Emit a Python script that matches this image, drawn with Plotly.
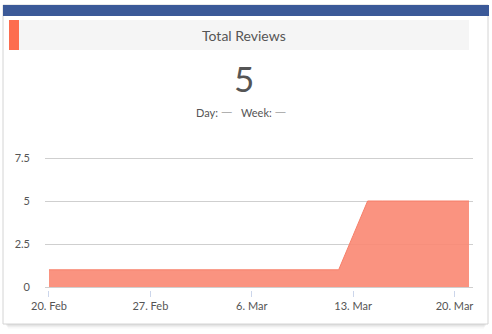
import pandas as pd
import plotly.graph_objects as go

# Cumulative review count per day
dates = pd.date_range("2023-02-20", "2023-03-21", freq="D")
reviews = [1] * 21 + [3] + [5] * 8

tick_dates = ["2023-02-20", "2023-02-27", "2023-03-06", "2023-03-13", "2023-03-20"]
tick_labels = ["20. Feb", "27. Feb", "6. Mar", "13. Mar", "20. Mar"]
y_ticks = [0, 2.5, 5, 7.5]
y_labels = ["0", "2.5", "5", "7.5"]

title = "Total Reviews"
total = "5"

W, H = 492, 334
FONT = "Lato"
TXT = "#555555"
PX_PER_UNIT = 129 / 7.5  # vertical pixels per review


def px(x):
    return x / W


def py(y):
    return 1 - y / H


fig = go.Figure()
fig.add_trace(go.Scatter(
    x=dates, y=reviews, mode="lines", fill="tozeroy",
    line=dict(color="#f7806a", width=1),
    fillcolor="rgba(249,135,114,0.9)",
    hoverinfo="x+y", showlegend=False,
))

shapes = []
# soft drop shadow under the card
for i, a in enumerate([0.10, 0.07, 0.045, 0.025]):
    shapes.append(dict(type="rect", xref="paper", yref="paper",
                       x0=px(5 + i), x1=px(487 - i), y0=py(324 + i * 1.6), y1=py(318),
                       fillcolor=f"rgba(0,0,0,{a})", line_width=0, layer="below"))
# card body
shapes.append(dict(type="rect", xref="paper", yref="paper",
                   x0=px(3), x1=px(488), y0=py(324), y1=py(5),
                   fillcolor="white", line=dict(color="#d4d4d4", width=1), layer="below"))
# header band
shapes.append(dict(type="rect", xref="paper", yref="paper",
                   x0=px(3), x1=px(489), y0=py(16), y1=py(5),
                   fillcolor="#3b5998", line_width=0, layer="below"))
# title bar
shapes.append(dict(type="rect", xref="paper", yref="paper",
                   x0=px(9), x1=px(469), y0=py(50), y1=py(20),
                   fillcolor="#f5f5f5", line_width=0, layer="below"))
shapes.append(dict(type="rect", xref="paper", yref="paper",
                   x0=px(9), x1=px(19), y0=py(50), y1=py(20),
                   fillcolor="#fd6d4f", line_width=0, layer="below"))


def label(text, x, y, size):
    return dict(text=text, x=px(x), y=py(y), xref="paper", yref="paper",
                xanchor="center", yanchor="middle", showarrow=False,
                font=dict(family=FONT, size=size, color=TXT))


dash = "<span style='color:#b0b0b0;font-size:15px'>—</span>"
annotations = [
    label(title, 244, 36, 14),
    label(total, 244, 78, 35),
    label(f"Day: {dash}   Week: {dash}", 241, 111, 11),
]

x0 = pd.Timestamp("2023-02-20") - pd.Timedelta(hours=6.6)
x1 = pd.Timestamp("2023-03-21") + pd.Timedelta(hours=6.6)

# pad the value range a little so the 0 and 7.5 gridlines are drawn
pad = 0.15
fig.update_layout(
    width=W, height=H,
    margin=dict(l=0, r=0, t=0, b=0, pad=0, autoexpand=False),
    paper_bgcolor="white", plot_bgcolor="rgba(0,0,0,0)",
    shapes=shapes, annotations=annotations,
    font=dict(family=FONT, color=TXT, size=11),
    xaxis=dict(
        domain=[px(45), px(473)], range=[x0, x1], automargin=False,
        tickvals=tick_dates, ticktext=tick_labels,
        ticks="outside", ticklen=6, tickcolor="#ccd6eb", tickwidth=1,
        showgrid=False, showline=False, zeroline=False,
        tickfont=dict(family=FONT, size=11, color=TXT),
    ),
    yaxis=dict(
        domain=[py(287 + pad * PX_PER_UNIT), py(158 - pad * PX_PER_UNIT)],
        range=[-pad, 7.5 + pad], automargin=False,
        tickvals=y_ticks, ticktext=y_labels,
        showgrid=True, gridcolor="#cfcfcf", gridwidth=1,
        zeroline=False, showline=False,
        ticklabelstandoff=14,
        tickfont=dict(family=FONT, size=11, color=TXT),
    ),
)

fig.write_html("out.html")
